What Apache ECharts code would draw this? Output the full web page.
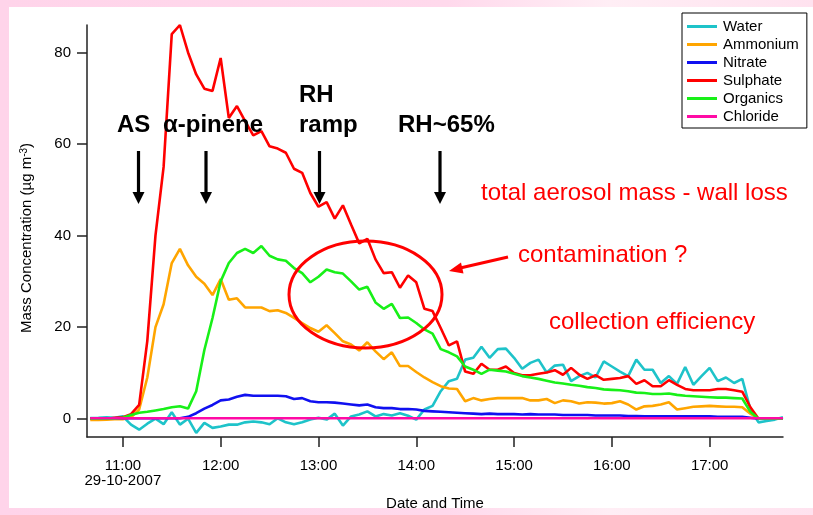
<!DOCTYPE html>
<html>
<head>
<meta charset="utf-8">
<script src="https://cdn.jsdelivr.net/npm/echarts@6/dist/echarts.min.js"></script>
<style>
html, body { margin: 0; padding: 0; width: 813px; height: 515px; overflow: hidden; }
body { background: linear-gradient(90deg, #ffd4ea 0%, #ffd9ec 55%, #ffeef5 75%, #ffe2ef 100%); }
#panel { position: absolute; left: 9px; top: 7px; width: 804px; height: 501px; background: #ffffff; }
#chart { position: absolute; left: 0; top: 0; width: 813px; height: 515px; }
</style>
</head>
<body>
<div id="panel"></div>
<div id="chart"></div>
<script>
// Sampling times, 29-10-2007 (5 minute steps)
const times = [
  "10:40","10:45","10:50","10:55","11:00","11:05","11:10","11:15","11:20","11:25",
  "11:30","11:35","11:40","11:45","11:50","11:55","12:00","12:05","12:10","12:15",
  "12:20","12:25","12:30","12:35","12:40","12:45","12:50","12:55","13:00","13:05",
  "13:10","13:15","13:20","13:25","13:30","13:35","13:40","13:45","13:50","13:55",
  "14:00","14:05","14:10","14:15","14:20","14:25","14:30","14:35","14:40","14:45",
  "14:50","14:55","15:00","15:05","15:10","15:15","15:20","15:25","15:30","15:35",
  "15:40","15:45","15:50","15:55","16:00","16:05","16:10","16:15","16:20","16:25",
  "16:30","16:35","16:40","16:45","16:50","16:55","17:00","17:05","17:10","17:15",
  "17:20","17:25","17:30","17:35","17:40","17:45"
];

// Mass concentrations, µg m-3
const water = [
  0.15,0.2,0.3,0.2,0.5,-1.3,-2.4,-1.1,0,-1.2,
  1.4,-1.3,0,-3.1,-0.9,-2.0,-1.7,-1.3,-1.3,-0.8,
  -0.6,-0.8,-1.2,0.1,-0.8,-1.2,-0.8,-0.2,0.2,-0.2,
  1.1,-1.5,0.5,0.9,1.6,0.5,1.0,0.7,1.2,0.65,
  -0.2,2.0,2.8,6.0,8.2,8.7,12.9,13.3,15.7,13.3,
  15.2,15.3,13.3,10.9,12.2,12.9,10.1,11.6,11.8,8.2,
  9.3,10.0,9.0,12.5,11.4,10.3,9.3,12.9,10.7,10.7,
  7.8,9.3,7.6,11.3,7.4,9.3,11.1,8.2,9.0,7.8,
  8.7,2.0,-0.8,-0.5,-0.2,0.3
];
const ammonium = [
  -0.3,-0.3,-0.2,-0.1,-0.1,0.3,2,9,20,25,
  34,37.1,33.5,31,29.5,27,30.5,26,26.3,24.3,
  24.3,24.3,23.5,23.7,23.1,22.0,20.9,19.8,19.0,20.4,
  18.7,16.9,16.2,14.9,16.7,14.7,13.0,14.5,11.5,11.5,
  10.2,9,8,7.1,6.6,6.5,3.8,4.5,4.0,4.3,
  4.5,4.5,4.5,4.5,4.0,4.0,4.3,3.4,4.0,3.8,
  3.3,3.6,3.5,3.3,3.4,3.8,3.1,2.0,2.7,2.8,
  3.1,3.6,2.0,2.3,2.6,2.7,2.8,2.7,2.6,2.6,
  2.5,1.1,0,0,0,0
];
const nitrate = [
  0.1,0.1,0.1,0.1,0.1,0.1,0.1,0.1,0.1,0.1,
  0.1,0.1,0.4,1.2,2.2,3.0,4.0,4.2,4.8,5.2,
  5.0,5.0,5.0,5.0,4.9,4.3,4.5,3.8,3.6,3.6,
  3.5,3.3,3.1,2.9,3.1,2.5,2.3,2.3,2.1,2.1,
  2.0,1.7,1.6,1.5,1.4,1.3,1.2,1.1,1.0,1.1,
  1.0,1.0,1.0,0.9,1.0,0.9,0.9,0.9,0.8,0.8,
  0.8,0.8,0.7,0.7,0.7,0.7,0.6,0.6,0.5,0.5,
  0.5,0.5,0.5,0.5,0.5,0.5,0.5,0.4,0.4,0.4,
  0.4,0.2,0,0,0,0
];
const sulphate = [
  0,0,0,0.2,0.3,1.0,3,17,40,55,
  84,86,80,75.2,72.1,71.6,78.8,65.7,68.3,65.0,
  61.9,62.8,59.5,59.0,58.1,54.6,53.7,49.3,46.3,47.3,
  43.7,46.6,42.4,38.3,39.3,34.8,31.8,32.0,28.6,31.3,
  29.8,24.0,23.5,19.8,16.0,16.9,10.3,9.8,12.0,10.7,
  10.7,11.4,10.0,9.5,9.5,9.8,10.1,10.6,9.6,11.1,
  9.6,8.7,9.5,8.5,8.7,8.9,9.3,7.6,8.4,7.1,
  7.1,8.4,7.4,6.5,6.2,6.2,6.2,6.5,6.5,6.2,
  5.9,2.5,0,0,0.1,0
];
const organics = [
  0,0,0,0,0.2,0.8,1.3,1.5,1.8,2.1,
  2.5,2.7,2.2,6,15,22,30,34,36.2,37.1,
  36.2,37.7,35.6,34.8,34.5,32.9,31.8,29.8,31.0,32.6,
  32.0,31.7,30.0,28.2,28.8,25.4,24.0,25.1,22.0,22.1,
  20.9,19.5,18.6,15.2,14.5,13.6,11.4,10.7,9.8,10.7,
  10.5,10.3,9.8,9.3,9.0,8.7,8.3,7.9,7.7,7.4,
  7.2,6.9,6.7,6.4,6.3,6.2,6.0,5.7,5.6,5.4,
  5.4,5.5,5.2,5.0,4.9,4.8,4.7,4.6,4.6,4.5,
  4.4,1.5,0,0,0,0
];
const chloride = [
  0.1,0.1,0.1,0.1,0.1,0.1,0.1,0.1,0.1,0.1,
  0.1,0.1,0.1,0.1,0.1,0.1,0.1,0.1,0.1,0.1,
  0.1,0.1,0.1,0.1,0.1,0.1,0.1,0.1,0.1,0.1,
  0.1,0.1,0.1,0.1,0.1,0.1,0.1,0.1,0.1,0.1,
  0.1,0.1,0.1,0.1,0.1,0.1,0.1,0.1,0.1,0.1,
  0.1,0.1,0.1,0.1,0.1,0.1,0.1,0.1,0.1,0.1,
  0.1,0.1,0.1,0.1,0.1,0.1,0.1,0.1,0.1,0.1,
  0.1,0.1,0.1,0.1,0.1,0.1,0.1,0.1,0.1,0.1,
  0.1,0.1,0.1,0.1,0.1,0.1
];

const seriesNames = ["Water", "Ammonium", "Nitrate", "Sulphate", "Organics", "Chloride"];
const seriesValues = [water, ammonium, nitrate, sulphate, organics, chloride];
const seriesColors = ["#1ec3c9", "#ffa500", "#1010f0", "#ff0000", "#18f018", "#ff0aa5"];

const hourTicks = ["11:00", "12:00", "13:00", "14:00", "15:00", "16:00", "17:00"];
const yTicks = [0, 20, 40, 60, 80];
const dateLabel = "29-10-2007";

const FONT = "'Liberation Sans', Arial, Helvetica, sans-serif";

function toMinutes(t) {
  const p = t.split(":");
  return Number(p[0]) * 60 + Number(p[1]);
}
function fmtTime(m) {
  const h = Math.floor(m / 60), mm = Math.round(m % 60);
  return h + ":" + (mm < 10 ? "0" : "") + mm;
}

const xTickValues = hourTicks.map(toMinutes);
const firstTick = xTickValues[0];

const chart = echarts.init(document.getElementById("chart"), null, { renderer: "canvas" });

// black event arrow pointing down
function eventArrow(x, yTop, yTip) {
  return [
    { type: "line", shape: { x1: x, y1: yTop, x2: x, y2: yTip - 10 },
      style: { stroke: "#000", lineWidth: 3.2 }, z: 100 },
    { type: "polygon", shape: { points: [[x - 6, yTip - 12], [x + 6, yTip - 12], [x, yTip]] },
      style: { fill: "#000" }, z: 100 }
  ];
}
function boldLabel(text, x, y) {
  return { type: "text", x: x, y: y, z: 100,
    style: { text: text, font: "bold 24px " + FONT, fill: "#000", align: "left", verticalAlign: "middle" } };
}
function redLabel(text, x, y) {
  return { type: "text", x: x, y: y, z: 100,
    style: { text: text, font: "24px " + FONT, fill: "#ff0000", align: "left", verticalAlign: "middle" } };
}

const graphics = [].concat(
  [
    boldLabel("AS", 117, 125.5),
    boldLabel("\u03b1-pinene", 163, 125.5),
    boldLabel("RH", 299, 95.5),
    boldLabel("ramp", 299, 125.5),
    boldLabel("RH~65%", 398, 125.5)
  ],
  eventArrow(138.5, 151, 204),
  eventArrow(206, 151, 204),
  eventArrow(319.5, 151, 204),
  eventArrow(440, 151, 204),
  [
    redLabel("total aerosol mass - wall loss", 481, 193),
    redLabel("contamination ?", 518, 255),
    redLabel("collection efficiency", 549, 322.5),
    { type: "ellipse", z: 100, shape: { cx: 365.5, cy: 294.5, rx: 76.5, ry: 53.5 },
      style: { stroke: "#ff0000", lineWidth: 3, fill: null } },
    { type: "line", z: 100, shape: { x1: 508, y1: 257, x2: 458, y2: 268.5 },
      style: { stroke: "#ff0000", lineWidth: 3 } },
    { type: "polygon", z: 100, shape: { points: [[449, 271], [461, 262.5], [463.5, 273.5]] },
      style: { fill: "#ff0000" } },
    { type: "text", x: 27, y: 238, rotation: Math.PI / 2, z: 100,
      style: {
        text: "Mass Concentration (\u00b5g m{sup|-3})",
        font: "15px " + FONT, fill: "#000", align: "center", verticalAlign: "middle",
        rich: { sup: { fontSize: 10, fontFamily: FONT, verticalAlign: "top", fill: "#000", padding: [0, 0, 6, 0] } }
      } }
  ]
);

const option = {
  animation: false,
  backgroundColor: "transparent",
  grid: { left: 87, right: 30, top: 25, bottom: 78, containLabel: false, outerBoundsMode: "none" },
  xAxis: {
    type: "value",
    min: toMinutes("10:38"),
    max: toMinutes("17:45"),
    name: "Date and Time",
    nameLocation: "middle",
    nameGap: 59,
    nameTextStyle: { fontSize: 15, color: "#000", fontFamily: FONT },
    axisLine: { show: true, onZero: false, lineStyle: { color: "#222", width: 1.5 } },
    axisTick: { show: true, customValues: xTickValues, length: 10, lineStyle: { color: "#222", width: 1.5 } },
    axisLabel: {
      customValues: xTickValues, margin: 21, fontSize: 15, color: "#000", fontFamily: FONT, lineHeight: 15,
      formatter: function (v) { return v === firstTick ? fmtTime(v) + "\n" + dateLabel : fmtTime(v); }
    },
    splitLine: { show: false }
  },
  yAxis: {
    type: "value",
    min: -4,
    max: 86,
    axisLine: { show: true, onZero: false, lineStyle: { color: "#222", width: 1.5 } },
    axisTick: { show: true, customValues: yTicks, length: 10, lineStyle: { color: "#222", width: 1.5 } },
    axisLabel: { customValues: yTicks, margin: 16, fontSize: 15, color: "#000", fontFamily: FONT },
    splitLine: { show: false }
  },
  legend: {
    orient: "vertical",
    left: 682, top: 13,
    padding: [6, 8, 4, 5],
    itemGap: 3,
    itemWidth: 30, itemHeight: 3,
    icon: "rect",
    borderColor: "#000", borderWidth: 1,
    backgroundColor: "#fff",
    textStyle: { fontSize: 15, color: "#000", fontFamily: FONT, padding: [0, 0, 0, 1] },
    data: seriesNames
  },
  graphic: graphics,
  series: seriesNames.map(function (name, k) {
    return {
      name: name,
      type: "line",
      showSymbol: false,
      symbol: "none",
      color: seriesColors[k],
      lineStyle: { color: seriesColors[k], width: 2.6 },
      data: times.map(function (t, i) { return [toMinutes(t), seriesValues[k][i]]; })
    };
  })
};

chart.setOption(option);
</script>
</body>
</html>
